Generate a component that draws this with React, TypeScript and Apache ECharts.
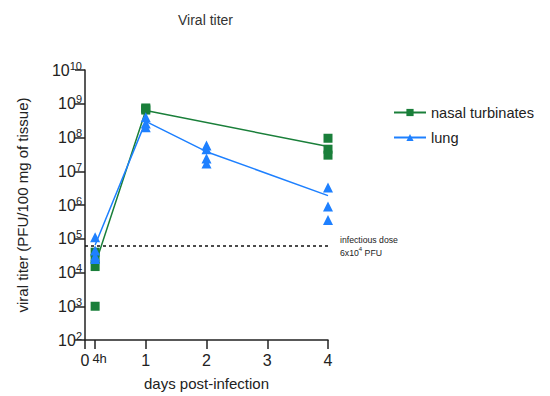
import React, { useEffect, useRef } from "react";
import * as echarts from "echarts";

const FOUR_H = 1 / 6;

const xTickValues = [0, FOUR_H, 1, 2, 3, 4];

const nasalTimes = [FOUR_H, FOUR_H, FOUR_H, FOUR_H, 1, 1, 1, 4, 4, 4];
const nasalTiters = [1e3, 1.5e4, 2.6e4, 4e4, 7.5e8, 7e8, 6.5e8, 9.5e7, 4.5e7, 3e7];

const lungTimes = [FOUR_H, FOUR_H, FOUR_H, FOUR_H, 1, 1, 1, 2, 2, 2, 2, 4, 4, 4];
const lungTiters = [1.1e5, 4.5e4, 3e4, 2.5e4, 4e8, 2.6e8, 2e8, 5.8e7, 4.5e7, 2.4e7, 1.7e7, 3.3e6, 9e5, 3.6e5];

const nasalMeanTimes = [FOUR_H, 1, 4];
const nasalMeans = [1.7e4, 6.3e8, 5.4e7];

const lungMeanTimes = [FOUR_H, 1, 2, 4];
const lungMeans = [6.5e4, 3e8, 3.8e7, 1.9e6];

const infectiousDose = 6e4;

const GREEN = "#1a7f3a";
const BLUE = "#1e80ff";
const FONT = "'Liberation Sans', Arial, sans-serif";

const zip = (xs: number[], ys: number[]) => xs.map((x, i) => [x, ys[i]]);

export default function App() {
  const ref = useRef<HTMLDivElement>(null);
  useEffect(() => {
    if (!ref.current) return;
    const chart = echarts.init(ref.current, undefined, { renderer: "svg" });
    chart.setOption({
      animation: false,
      textStyle: { fontFamily: FONT },
      title: {
        text: "Viral titer",
        left: 173,
        top: 8,
        textStyle: { fontSize: 14, fontWeight: "normal", color: "#333", fontFamily: FONT },
      },
      legend: {
        orient: "vertical",
        left: 388,
        top: 100,
        itemWidth: 32,
        itemHeight: 9,
        itemGap: 10,
        textStyle: { fontSize: 14.6, color: "#222", fontFamily: FONT },
        data: ["nasal turbinates", "lung"],
      },
      grid: { left: 85, top: 70, width: 243, height: 272 },
      xAxis: {
        type: "value",
        min: 0,
        max: 4,
        name: "days post-infection",
        nameLocation: "middle",
        nameGap: 36,
        nameTextStyle: { fontSize: 15, color: "#222", fontFamily: FONT },
        splitLine: { show: false },
        axisLine: { lineStyle: { color: "#222", width: 1.5 } },
        axisTick: { length: 9, lineStyle: { color: "#222", width: 1.5 }, customValues: xTickValues },
        axisLabel: {
          customValues: xTickValues,
          margin: 12,
          fontSize: 16,
          color: "#222",
          formatter: (v: number) => (Math.abs(v - FOUR_H) < 1e-6 ? "{h|4h}" : String(Math.round(v))),
          rich: {
            h: { fontSize: 13, color: "#222", padding: [0, 0, 4, 9], fontFamily: FONT },
          },
        },
      },
      yAxis: {
        type: "log",
        logBase: 10,
        min: 100,
        max: 1e10,
        interval: 1,
        name: "viral titer (PFU/100 mg of tissue)",
        nameLocation: "middle",
        nameGap: 55,
        nameTextStyle: { fontSize: 15, color: "#222", fontFamily: FONT },
        splitLine: { show: false },
        axisLine: { show: true, lineStyle: { color: "#222", width: 1.5 } },
        axisTick: { length: 10, lineStyle: { color: "#222", width: 1.5 } },
        axisLabel: {
          margin: 3,
          color: "#222",
          formatter: (v: number) => `{b|10}{s|${Math.round(Math.log10(v))}}`,
          rich: {
            b: { fontSize: 16, color: "#222", fontFamily: FONT, lineHeight: 20 },
            s: { fontSize: 11, color: "#222", fontFamily: FONT, verticalAlign: "top", lineHeight: 20, padding: [0, 0, 7, 0] },
          },
        },
      },
      series: [
        {
          name: "nasal turbinates",
          type: "line",
          data: zip(nasalMeanTimes, nasalMeans),
          symbol: "rect",
          symbolSize: 9,
          showSymbol: false,
          lineStyle: { color: GREEN, width: 1.5 },
          itemStyle: { color: GREEN },
          z: 2,
        },
        {
          name: "lung",
          type: "line",
          data: zip(lungMeanTimes, lungMeans),
          symbol: "triangle",
          symbolSize: 10,
          showSymbol: false,
          lineStyle: { color: BLUE, width: 1.5 },
          itemStyle: { color: BLUE },
          z: 2,
          markLine: {
            silent: true,
            symbol: "none",
            lineStyle: { color: "#111", type: [3, 3], width: 1.5 },
            label: {
              show: true,
              position: "end",
              distance: 12,
              formatter: "{a|infectious dose}\n{a|6x10}{s|4}{a| PFU}",
              rich: {
                a: { fontSize: 8.7, color: "#222", fontFamily: FONT, lineHeight: 13, align: "left" },
                s: { fontSize: 6, color: "#222", fontFamily: FONT, lineHeight: 13, verticalAlign: "top", padding: [0, 0, 4, 0] },
              },
            },
            data: [{ yAxis: infectiousDose }],
          },
        },
        {
          name: "nasal turbinates",
          type: "scatter",
          data: zip(nasalTimes, nasalTiters),
          symbol: "rect",
          symbolSize: 9,
          itemStyle: { color: GREEN, opacity: 1 },
          z: 3,
        },
        {
          name: "lung",
          type: "scatter",
          data: zip(lungTimes, lungTiters),
          symbol: "triangle",
          symbolSize: 10,
          itemStyle: { color: BLUE, opacity: 1 },
          z: 4,
        },
      ],
    });
    return () => chart.dispose();
  }, []);
  return <div ref={ref} style={{ width: 550, height: 396, position: "absolute", left: 0, top: 0 }} />;
}
